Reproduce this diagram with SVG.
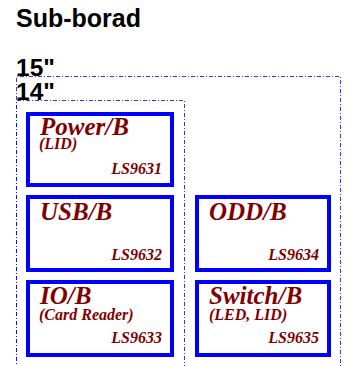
<svg xmlns="http://www.w3.org/2000/svg" width="349" height="366" viewBox="0 0 349 366">
<style>
.hd{font-family:"Liberation Sans",Arial,sans-serif;font-weight:bold;font-size:24.5px;fill:#000}
.ttl{font-size:25px}
.frame{fill:none;stroke:#0000ff;stroke-width:1;stroke-dasharray:4,2,1,2;opacity:0.8}
.box{fill:#fff;stroke:#0000ff;stroke-width:4}
.t{font-family:"Liberation Serif","Times New Roman",serif;font-weight:bold;font-style:italic;fill:#800000}
.big{font-size:25px}
.sub{font-size:16px}
.code{font-size:16px;text-anchor:end}
</style>
<rect width="349" height="366" fill="#fff"/>
<text class="hd ttl" x="16" y="27">Sub-borad</text>
<g id="frame15">
<path class="frame" d="M16.5,370 V76.5 H340.5 V370"/>
<text class="hd" x="16" y="76">15"</text>
</g>
<g id="frame14">
<path class="frame" d="M16.5,370 V100.5 H184.5 V370"/>
<text class="hd" x="16" y="100">14"</text>
</g>
<g id="power">
<rect class="box" x="28" y="114" width="144" height="71"/>
<text class="t big" x="40" y="135">Power/B</text>
<text class="t sub" x="39" y="149">(LID)</text>
<text class="t code" x="162" y="174">LS9631</text>
</g>
<g id="usb">
<rect class="box" x="28" y="197" width="144" height="73"/>
<text class="t big" x="40" y="220">USB/B</text>
<text class="t code" x="162" y="260">LS9632</text>
</g>
<g id="odd">
<rect class="box" x="197" y="197" width="132" height="73"/>
<text class="t big" x="209" y="220">ODD/B</text>
<text class="t code" x="319" y="260">LS9634</text>
</g>
<g id="io">
<rect class="box" x="28" y="282" width="144" height="73"/>
<text class="t big" x="40" y="304">IO/B</text>
<text class="t sub" x="39" y="320">(Card Reader)</text>
<text class="t code" x="162" y="343">LS9633</text>
</g>
<g id="switch">
<rect class="box" x="197" y="282" width="132" height="73"/>
<text class="t big" x="209" y="304">Switch/B</text>
<text class="t sub" x="209" y="320">(LED, LID)</text>
<text class="t code" x="319" y="343">LS9635</text>
</g>
<g id="connectors"/>
</svg>
